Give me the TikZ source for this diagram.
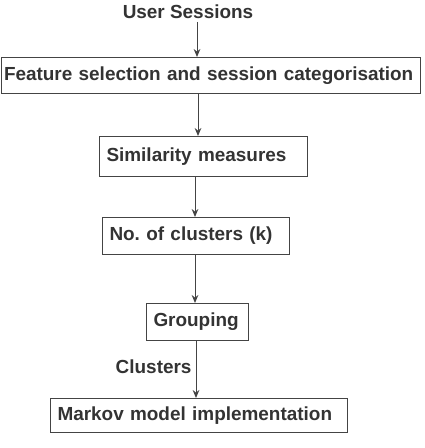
\documentclass[tikz,border=0pt]{standalone}
\usepackage{fontspec}
\setmainfont{Liberation Sans}
\usetikzlibrary{arrows.meta}
\definecolor{txt}{HTML}{333333}
\definecolor{ln}{HTML}{444444}
\frenchspacing
\begin{document}
\begin{tikzpicture}[x=0.75pt,y=-0.75pt,
  lbl/.style={font=\fontsize{14.2}{17}\selectfont\bfseries, text=txt, inner sep=0pt},
  box/.style={draw=ln, line width=0.75pt, anchor=north west, inner ysep=0pt,
    font=\fontsize{14.2}{17}\selectfont\bfseries, text=txt, align=left},
  arr/.style={draw=ln, line width=0.75pt, -{Stealth[length=6pt,width=5pt,inset=2pt]}}]
\useasboundingbox (0,0) rectangle (424,448);
\node[lbl] (us) at (188,12) {User Sessions};
\node[box, inner xsep=2.25pt, text width=413*0.75pt, minimum height=36*0.75pt] (fs) at (0.5,57) {Feature selection and session categorisation};
\node[box, inner xsep=5.25pt, text width=(208-14)*0.75pt, minimum height=40*0.75pt] (sm) at (99,136) {Similarity measures};
\node[box, inner xsep=5.25pt, text width=(187-14)*0.75pt, minimum height=37*0.75pt] (nc) at (102,217) {No. of clusters (k)};
\node[box, inner xsep=5.25pt, text width=(102-14)*0.75pt, minimum height=37*0.75pt] (gr) at (146,303) {Grouping};
\node[box, inner xsep=5.25pt, text width=(297-14)*0.75pt, minimum height=34*0.75pt] (mm) at (50,398) {Markov model implementation};
\coordinate (c1) at (197,22);
\draw[arr] (c1) -- (c1 |- fs.north);
\coordinate (c2) at (198,0);
\draw[arr] (c2 |- fs.south) -- (c2 |- sm.north);
\coordinate (c3) at (195,0);
\draw[arr] (c3 |- sm.south) -- (c3 |- nc.north);
\draw[arr] (c3 |- nc.south) -- (c3 |- gr.north);
\coordinate (c5) at (196,0);
\draw[arr] (c5 |- gr.south) -- node[lbl, anchor=east, xshift=-3pt, pos=0.45] (cl) {Clusters} (c5 |- mm.north);
\end{tikzpicture}
\end{document}
